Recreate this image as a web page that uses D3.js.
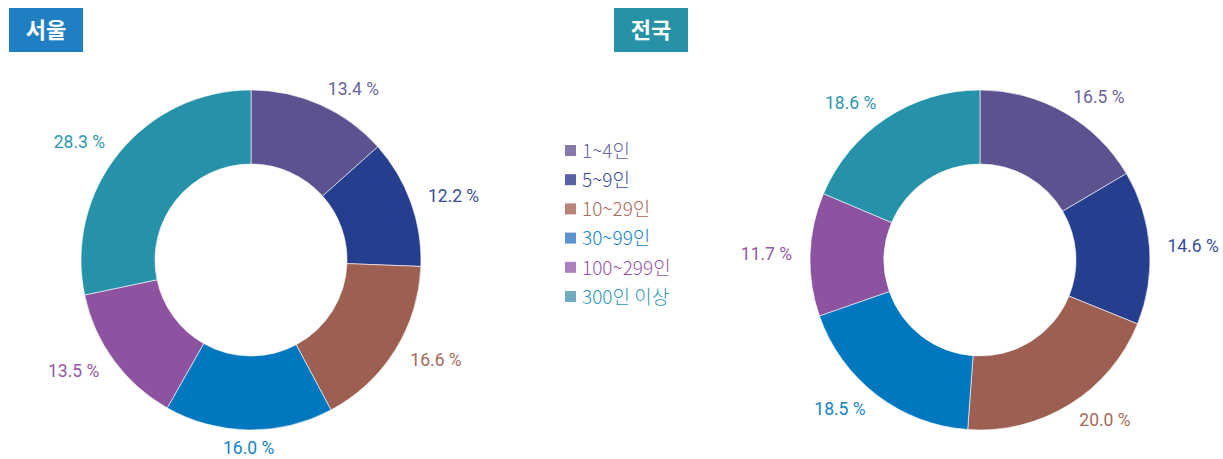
<!DOCTYPE html>
<html>
<head>
<meta charset="utf-8">
<script src="https://cdn.jsdelivr.net/npm/d3@7"></script>
<style>
  body { margin: 0; background: #fff; }
  svg { display: block; }
</style>
</head>
<body>
<svg id="chart" width="1223" height="459"></svg>
<script>
// categories and values
const categories = ["1~4인", "5~9인", "10~29인", "30~99인", "100~299인", "300인 이상"];
const seoul = [13.4, 12.2, 16.6, 16.0, 13.5, 28.3];
const nation = [16.5, 14.6, 20.0, 18.5, 11.7, 18.6];
const colors = ["#5c528f", "#263e8e", "#9c5f52", "#0077be", "#8d52a0", "#2592aa"];
const legendColors = ["#8679a9", "#5a62a6", "#b7847a", "#5b94cf", "#a97fbc", "#72aabf"];
const textColors = ["#6b639c", "#3a4c98", "#a66a5c", "#1583c6", "#9558a7", "#2d98ae"];

const svg = d3.select("#chart");

function donut(cx, cy, values, title, titleX, titleColor) {
    const g = svg.append("g").attr("transform", `translate(${cx},${cy})`);
    const pie = d3.pie().sort(null).value(d => d);
    const arc = d3.arc().innerRadius(96).outerRadius(170);
    const labelArc = d3.arc().innerRadius(188).outerRadius(188);
    const arcs = pie(values);

    g.selectAll("path.slice")
        .data(arcs)
        .enter().append("path")
        .attr("class", "slice")
        .attr("d", arc)
        .style("fill", (d, i) => colors[i])
        .attr("stroke", "#fff")
        .attr("stroke-width", 0.6);

    // anchor by side: right side starts, left side ends, top/bottom centred
    const side = d => {
        const s = Math.sin((d.startAngle + d.endAngle) / 2);
        return Math.abs(s) < 0.3 ? "middle" : (s > 0 ? "start" : "end");
    };

    g.selectAll("text.lbl")
        .data(arcs)
        .enter().append("text")
        .attr("class", "lbl")
        .attr("transform", d => `translate(${labelArc.centroid(d)})`)
        .attr("text-anchor", side)
        .attr("dy", "0.35em")
        .attr("font-size", 17.5)
        .attr("font-family", "Roboto, 'Noto Sans', sans-serif")
        .style("fill", (d, i) => textColors[i])
        .text(d => d.data.toFixed(1) + " %");

    svg.append("rect")
        .attr("x", titleX).attr("y", 8)
        .attr("width", 74).attr("height", 44)
        .style("fill", titleColor);
    svg.append("text")
        .attr("x", titleX + 37).attr("y", 30)
        .attr("text-anchor", "middle")
        .attr("dy", "0.36em")
        .attr("font-size", 22)
        .attr("font-weight", "bold")
        .attr("font-family", "'Noto Sans CJK KR', sans-serif")
        .style("fill", "#fff")
        .text(title);
}

donut(251, 260, seoul, "서울", 9, "#1f7fc2");
donut(980, 260, nation, "전국", 614, "#2592a6");

// legend
const legend = svg.append("g").attr("transform", "translate(565,151)");
const rows = legend.selectAll("g")
    .data(categories)
    .enter().append("g")
    .attr("transform", (d, i) => `translate(0,${i * 29.2})`);
rows.append("rect")
    .attr("x", 0).attr("y", -6)
    .attr("width", 11).attr("height", 11)
    .style("fill", (d, i) => legendColors[i]);
rows.append("text")
    .attr("x", 17).attr("y", 0)
    .attr("dy", "0.36em")
    .attr("font-size", 19)
    .attr("font-weight", 300)
    .attr("font-family", "'Noto Sans CJK KR', sans-serif")
    .style("fill", (d, i) => textColors[i])
    .text(d => d);
</script>
</body>
</html>
